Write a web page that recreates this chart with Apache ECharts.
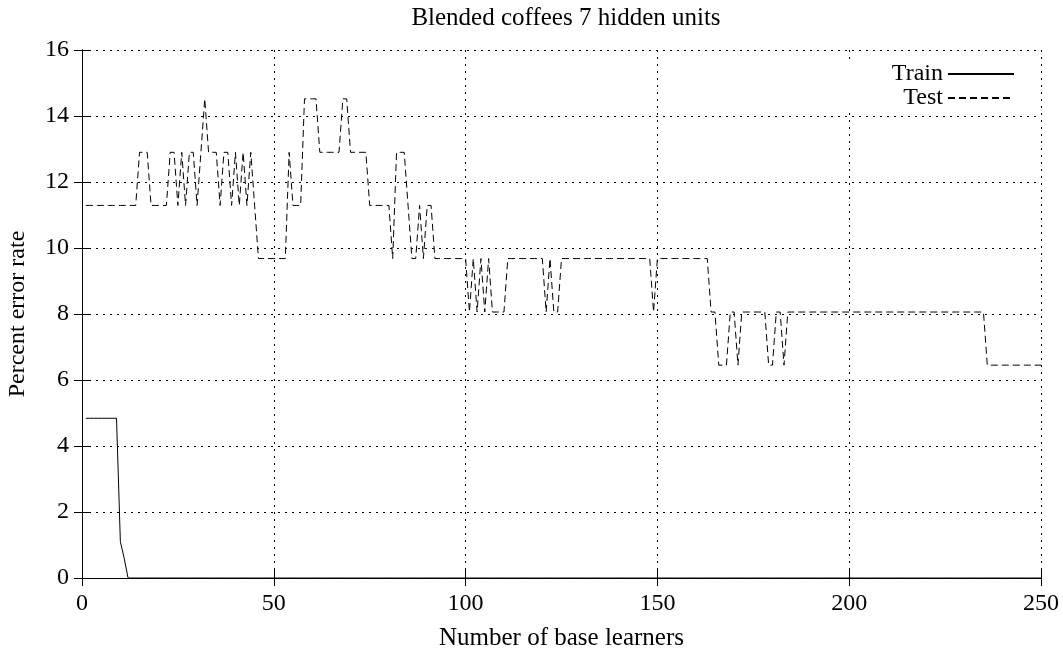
<!DOCTYPE html>
<html>
<head>
<meta charset="utf-8">
<script src="https://cdn.jsdelivr.net/npm/echarts@6/dist/echarts.min.js"></script>
<style>
  html, body { margin: 0; padding: 0; background: #fff; }
  #main { width: 1063px; height: 651px; }
</style>
</head>
<body>
<div id="main"></div>
<script>
// 数据: 每个基学习器数量 (1..250) 对应的错误率
var xTicks = [0, 50, 100, 150, 200, 250];
var yTicks = [0, 2, 4, 6, 8, 10, 12, 14, 16];

var trainError = [
    4.84, 4.84, 4.84, 4.84, 4.84, 4.84, 4.84, 4.84, 4.84, 1.10,
    0.60, 0, 0, 0, 0, 0, 0, 0, 0, 0,
    0, 0, 0, 0, 0, 0, 0, 0, 0, 0, 0, 0, 0, 0, 0, 0, 0, 0, 0, 0,
    0, 0, 0, 0, 0, 0, 0, 0, 0, 0, 0, 0, 0, 0, 0, 0, 0, 0, 0, 0,
    0, 0, 0, 0, 0, 0, 0, 0, 0, 0, 0, 0, 0, 0, 0, 0, 0, 0, 0, 0,
    0, 0, 0, 0, 0, 0, 0, 0, 0, 0, 0, 0, 0, 0, 0, 0, 0, 0, 0, 0,
    0, 0, 0, 0, 0, 0, 0, 0, 0, 0, 0, 0, 0, 0, 0, 0, 0, 0, 0, 0,
    0, 0, 0, 0, 0, 0, 0, 0, 0, 0, 0, 0, 0, 0, 0, 0, 0, 0, 0, 0,
    0, 0, 0, 0, 0, 0, 0, 0, 0, 0, 0, 0, 0, 0, 0, 0, 0, 0, 0, 0,
    0, 0, 0, 0, 0, 0, 0, 0, 0, 0, 0, 0, 0, 0, 0, 0, 0, 0, 0, 0,
    0, 0, 0, 0, 0, 0, 0, 0, 0, 0, 0, 0, 0, 0, 0, 0, 0, 0, 0, 0,
    0, 0, 0, 0, 0, 0, 0, 0, 0, 0, 0, 0, 0, 0, 0, 0, 0, 0, 0, 0,
    0, 0, 0, 0, 0, 0, 0, 0, 0, 0, 0, 0, 0, 0, 0, 0, 0, 0, 0, 0,
    0, 0, 0, 0, 0, 0, 0, 0, 0, 0
];

var testError = [
    11.29, 11.29, 11.29, 11.29, 11.29, 11.29, 11.29, 11.29, 11.29, 11.29,
    11.29, 11.29, 11.29, 11.29, 12.90, 12.90, 12.90, 11.29, 11.29, 11.29,
    11.29, 11.29, 12.90, 12.90, 11.29, 12.90, 11.29, 12.90, 12.90, 11.29,
    12.90, 14.52, 12.90, 12.90, 12.90, 11.29, 12.90, 12.90, 11.29, 12.90,
    11.29, 12.90, 11.29, 12.90, 11.29, 9.68, 9.68, 9.68, 9.68, 9.68,
    9.68, 9.68, 9.68, 12.90, 11.29, 11.29, 11.29, 14.52, 14.52, 14.52,
    14.52, 12.90, 12.90, 12.90, 12.90, 12.90, 12.90, 14.52, 14.52, 12.90,
    12.90, 12.90, 12.90, 12.90, 11.29, 11.29, 11.29, 11.29, 11.29, 11.29,
    9.68, 12.90, 12.90, 12.90, 11.29, 9.68, 9.68, 11.29, 9.68, 11.29,
    11.29, 9.68, 9.68, 9.68, 9.68, 9.68, 9.68, 9.68, 9.68, 9.68,
    8.06, 9.68, 8.06, 9.68, 8.06, 9.68, 8.06, 8.06, 8.06, 8.06,
    9.68, 9.68, 9.68, 9.68, 9.68, 9.68, 9.68, 9.68, 9.68, 9.68,
    8.06, 9.68, 8.06, 8.06, 9.68, 9.68, 9.68, 9.68, 9.68, 9.68,
    9.68, 9.68, 9.68, 9.68, 9.68, 9.68, 9.68, 9.68, 9.68, 9.68,
    9.68, 9.68, 9.68, 9.68, 9.68, 9.68, 9.68, 9.68, 8.06, 9.68,
    9.68, 9.68, 9.68, 9.68, 9.68, 9.68, 9.68, 9.68, 9.68, 9.68,
    9.68, 9.68, 9.68, 8.06, 8.06, 6.45, 6.45, 6.45, 8.06, 8.06,
    6.45, 8.06, 8.06, 8.06, 8.06, 8.06, 8.06, 8.06, 6.45, 6.45,
    8.06, 8.06, 6.45, 8.06, 8.06, 8.06, 8.06, 8.06, 8.06, 8.06,
    8.06, 8.06, 8.06, 8.06, 8.06, 8.06, 8.06, 8.06, 8.06, 8.06,
    8.06, 8.06, 8.06, 8.06, 8.06, 8.06, 8.06, 8.06, 8.06, 8.06,
    8.06, 8.06, 8.06, 8.06, 8.06, 8.06, 8.06, 8.06, 8.06, 8.06,
    8.06, 8.06, 8.06, 8.06, 8.06, 8.06, 8.06, 8.06, 8.06, 8.06,
    8.06, 8.06, 8.06, 8.06, 8.06, 6.45, 6.45, 6.45, 6.45, 6.45,
    6.45, 6.45, 6.45, 6.45, 6.45, 6.45, 6.45, 6.45, 6.45, 6.45
];

var fontFamily = '"Liberation Serif", "DejaVu Serif", serif';

function toPairs(arr) {
    return arr.map(function (v, i) { return [i + 1, v]; });
}

var chart = echarts.init(document.getElementById('main'));

function axisCommon(show, margin) {
    return {
        axisLine: { show: true, lineStyle: { color: '#000', width: 1 } },
        axisTick: { show: true, inside: true, length: 8, lineStyle: { color: '#000', width: 1 } },
        axisLabel: { show: show, margin: margin, color: '#000', fontFamily: fontFamily, fontSize: 24 },
        splitLine: { show: show, lineStyle: { color: '#000', width: 1, type: [2, 5] } }
    };
}

// 图例: 两个独立图例, 让线样本右对齐
function legendItem(name, top, padLeft) {
    return {
        data: [name],
        right: 48,
        top: top,
        align: 'right',
        itemWidth: 66,
        itemHeight: 10,
        padding: [2, 0, 2, padLeft],
        backgroundColor: '#fff',
        itemStyle: { opacity: 0 },
        textStyle: { color: '#000', fontFamily: fontFamily, fontSize: 24 }
    };
}

var option = {
    animation: false,
    backgroundColor: '#fff',
    title: {
        text: 'Blended coffees 7 hidden units',
        left: 561,
        textAlign: 'center',
        top: 1,
        textStyle: { color: '#000', fontFamily: fontFamily, fontSize: 25, fontWeight: 'normal' }
    },
    legend: [
        legendItem('Train', 60, 70),
        legendItem('Test', 84, 80)
    ],
    grid: { left: 82, right: 22, top: 50, bottom: 73, containLabel: false, outerBoundsMode: 'none' },
    xAxis: [
        Object.assign(axisCommon(true, 14), {
            type: 'value', min: xTicks[0], max: xTicks[xTicks.length - 1], interval: 50,
            position: 'bottom',
            name: 'Number of base learners',
            nameLocation: 'middle',
            nameGap: 48,
            nameTextStyle: { color: '#000', fontFamily: fontFamily, fontSize: 25 }
        }),
        Object.assign(axisCommon(false, 8), {
            type: 'value', min: xTicks[0], max: xTicks[xTicks.length - 1], interval: 50,
            position: 'top'
        })
    ],
    yAxis: [
        Object.assign(axisCommon(true, 13), {
            type: 'value', min: yTicks[0], max: yTicks[yTicks.length - 1], interval: 2,
            position: 'left',
            name: 'Percent error rate',
            nameLocation: 'middle',
            nameGap: 52,
            nameTextStyle: { color: '#000', fontFamily: fontFamily, fontSize: 24 }
        }),
        Object.assign(axisCommon(false, 8), {
            type: 'value', min: yTicks[0], max: yTicks[yTicks.length - 1], interval: 2,
            position: 'right'
        })
    ],
    series: [
        {
            name: 'Train',
            type: 'line',
            symbol: 'none',
            data: toPairs(trainError),
            lineStyle: { color: '#000', width: 1 },
            itemStyle: { color: '#000' }
        },
        {
            name: 'Test',
            type: 'line',
            symbol: 'none',
            data: toPairs(testError),
            lineStyle: { color: '#000', width: 1, type: [7, 4] },
            itemStyle: { color: '#000' }
        }
    ]
};
chart.setOption(option);
</script>
</body>
</html>
